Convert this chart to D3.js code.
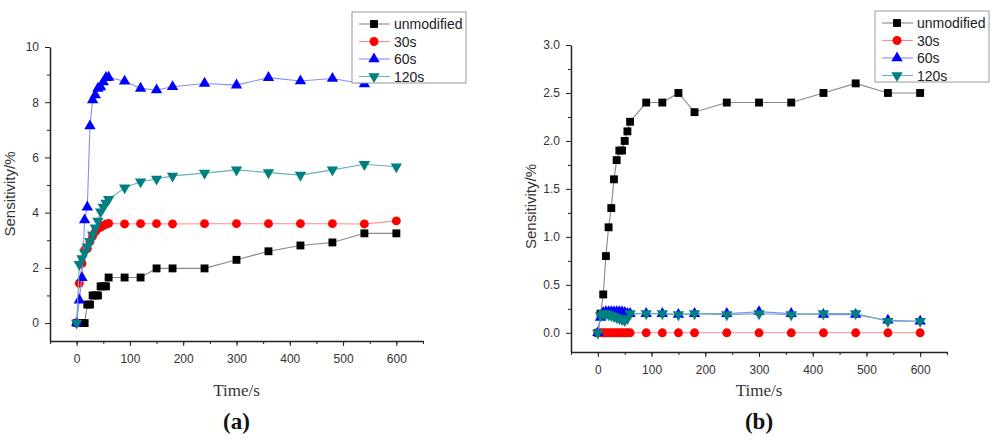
<!DOCTYPE html>
<html>
<head>
<meta charset="utf-8">
<script src="https://cdn.jsdelivr.net/npm/d3@7"></script>
<style>
  body { margin: 0; background: #fff; }
  svg { display: block; }
  .tick text { font-family: Arial, "Liberation Sans", sans-serif; fill: #333; }
</style>
</head>
<body>
<script>
// time points (s), shared by every series
const times = [0, 5, 10, 15, 20, 25, 30, 35, 40, 45, 50, 55, 60, 90, 120, 150, 180, 240, 300, 360, 420, 480, 540, 600];
const seriesNames = ["unmodified", "30s", "60s", "120s"];

// panel (a)
const aUnmodified = [0, 0, 0, 0, 0.67, 0.67, 1.0, 1.0, 1.0, 1.33, 1.33, 1.33, 1.65, 1.65, 1.65, 1.98, 1.98, 1.98, 2.29, 2.6, 2.81, 2.92, 3.25, 3.25];
const a30s = [0, 1.44, 2.16, 2.65, 2.7, 2.95, 3.15, 3.3, 3.42, 3.48, 3.53, 3.58, 3.61, 3.59, 3.6, 3.6, 3.59, 3.6, 3.6, 3.6, 3.6, 3.6, 3.59, 3.7];
const a60s = [0, 0.83, 1.64, 3.73, 4.2, 7.14, 8.08, 8.26, 8.5, 8.55, 8.73, 8.89, 8.9, 8.76, 8.5, 8.44, 8.56, 8.68, 8.62, 8.89, 8.77, 8.86, 8.66, 8.95];
const a120s = [0, 2.13, 2.34, 2.55, 2.76, 2.96, 3.2, 3.45, 3.7, 4.03, 4.2, 4.35, 4.48, 4.9, 5.12, 5.22, 5.33, 5.43, 5.55, 5.45, 5.36, 5.55, 5.75, 5.66];

// panel (b)
const bUnmodified = [0, 0.2, 0.4, 0.8, 1.1, 1.3, 1.6, 1.8, 1.9, 1.9, 2.0, 2.1, 2.2, 2.4, 2.4, 2.5, 2.3, 2.4, 2.4, 2.4, 2.5, 2.6, 2.5, 2.5];
const b30s = [0, 0, 0, 0, 0, 0, 0, 0, 0, 0, 0, 0, 0, 0, 0, 0, 0, 0, 0, 0, 0, 0, 0, 0];
const b60s = [0, 0.16, 0.21, 0.22, 0.22, 0.22, 0.22, 0.22, 0.22, 0.22, 0.21, 0.2, 0.2, 0.2, 0.2, 0.19, 0.2, 0.2, 0.22, 0.2, 0.19, 0.19, 0.13, 0.12];
const b120s = [0, 0.18, 0.2, 0.2, 0.19, 0.18, 0.17, 0.16, 0.15, 0.14, 0.13, 0.15, 0.2, 0.2, 0.2, 0.19, 0.2, 0.19, 0.2, 0.19, 0.2, 0.2, 0.12, 0.12];

const xTicks = [0, 100, 200, 300, 400, 500, 600];
const aYTicks = [0, 2, 4, 6, 8, 10];
const bYTicks = [0, 0.5, 1.0, 1.5, 2.0, 2.5, 3.0];

const markColor = ["#000000", "#ff0000", "#0000ff", "#008080"];
const lineColor = ["#888888", "#ff8a8a", "#8a8aff", "#66b3b3"];
const markType = [d3.symbolSquare, d3.symbolCircle, d3.symbolTriangle, d3.symbolTriangle];
const markSize = [62, 62, 56, 56];

const svg = d3.select("body").append("svg")
  .attr("width", 1000)
  .attr("height", 444);

const drawPanel = (opts) => {
  const x = d3.scaleLinear().domain([-50, 650]).range([opts.left, opts.right]);
  const y = d3.scaleLinear().domain(opts.yDomain).range([opts.bottom, opts.top]);

  const g = svg.append("g");

  // minor ticks
  g.append("g")
    .attr("transform", `translate(0,${opts.bottom})`)
    .call(d3.axisBottom(x).tickValues(d3.range(-50, 651, 50)).tickSize(3).tickFormat(""))
    .call((s) => s.select(".domain").remove());
  g.append("g")
    .attr("transform", `translate(${opts.left},0)`)
    .call(d3.axisLeft(y).tickValues(opts.yMinor).tickSize(3).tickFormat(""))
    .call((s) => s.select(".domain").remove());

  // major axes
  const xAxis = g.append("g")
    .attr("transform", `translate(0,${opts.bottom})`)
    .call(d3.axisBottom(x).tickValues(xTicks).tickSize(5).tickSizeOuter(0).tickPadding(8));
  const yAxis = g.append("g")
    .attr("transform", `translate(${opts.left},0)`)
    .call(d3.axisLeft(y).tickValues(opts.yTicks).tickSize(5).tickSizeOuter(0).tickPadding(6).tickFormat(opts.fmt));
  [xAxis, yAxis].forEach((a) => {
    a.select(".domain").attr("stroke", "#222").attr("stroke-width", 1.5);
    a.selectAll(".tick text").attr("font-size", 12);
  });
  g.selectAll(".tick line").attr("stroke", "#222");

  // series
  opts.series.forEach((vals, i) => {
    const pts = times.map((t, k) => [t, vals[k]]);
    g.append("path")
      .datum(pts)
      .attr("fill", "none")
      .attr("stroke", lineColor[i])
      .attr("stroke-width", 1.1)
      .attr("d", d3.line().x((d) => x(d[0])).y((d) => y(d[1])));
    g.append("g")
      .selectAll("path")
      .data(pts)
      .enter()
      .append("path")
      .attr("d", d3.symbol().type(markType[i]).size(markSize[i]))
      .attr("fill", markColor[i])
      .attr("transform", (d) => `translate(${x(d[0])},${y(d[1])})` + (i == 3 ? " rotate(180)" : ""));
  });

  // axis titles
  g.append("text")
    .attr("transform", `translate(${opts.left - 35},${(opts.top + opts.bottom) / 2 + opts.titleShift}) rotate(-90)`)
    .attr("text-anchor", "middle")
    .attr("font-family", "Arial, 'Liberation Sans', sans-serif")
    .attr("font-size", 15)
    .attr("fill", "#333")
    .text("Sensitivity/%");
  g.append("text")
    .attr("x", (opts.left + opts.right) / 2)
    .attr("y", 396)
    .attr("text-anchor", "middle")
    .attr("font-family", "'Liberation Serif', 'Times New Roman', serif")
    .attr("font-size", 17)
    .attr("fill", "#333")
    .text("Time/s");
  g.append("text")
    .attr("x", (opts.left + opts.right) / 2)
    .attr("y", 429)
    .attr("text-anchor", "middle")
    .attr("font-family", "'Liberation Serif', 'Times New Roman', serif")
    .attr("font-size", 23)
    .attr("font-weight", "bold")
    .attr("fill", "#111")
    .text(opts.tag);

  // legend
  const lg = g.append("g").attr("transform", `translate(${opts.legX},${opts.legY})`);
  lg.append("rect")
    .attr("width", opts.legW)
    .attr("height", 71)
    .attr("fill", "#fff")
    .attr("stroke", "#999")
    .attr("stroke-width", 1);
  seriesNames.forEach((name, i) => {
    const ry = 12 + i * 17.5;
    lg.append("line")
      .attr("x1", 7).attr("x2", 38)
      .attr("y1", ry).attr("y2", ry)
      .attr("stroke", lineColor[i]).attr("stroke-width", 1.1);
    lg.append("path")
      .attr("d", d3.symbol().type(markType[i]).size(markSize[i]))
      .attr("fill", markColor[i])
      .attr("transform", `translate(22,${ry})` + (i == 3 ? " rotate(180)" : ""));
    lg.append("text")
      .attr("x", 42)
      .attr("y", ry + 5)
      .attr("font-family", "Arial, 'Liberation Sans', sans-serif")
      .attr("font-size", 14)
      .attr("fill", "#222")
      .text(name);
  });
};

drawPanel({
  left: 50, right: 423, top: 47, bottom: 341,
  yDomain: [-0.65, 10],
  yTicks: aYTicks,
  yMinor: [1, 3, 5, 7, 9],
  fmt: d3.format("d"),
  series: [aUnmodified, a30s, a60s, a120s],
  tag: "(a)",
  titleShift: 0,
  legX: 352, legY: 12, legW: 114
});

drawPanel({
  left: 571, right: 947, top: 45, bottom: 352,
  yDomain: [-0.2, 3.0],
  yTicks: bYTicks,
  yMinor: [0.25, 0.75, 1.25, 1.75, 2.25, 2.75],
  fmt: d3.format(".1f"),
  series: [bUnmodified, b30s, b60s, b120s],
  tag: "(b)",
  titleShift: 8,
  legX: 875, legY: 11, legW: 114
});
</script>
</body>
</html>
